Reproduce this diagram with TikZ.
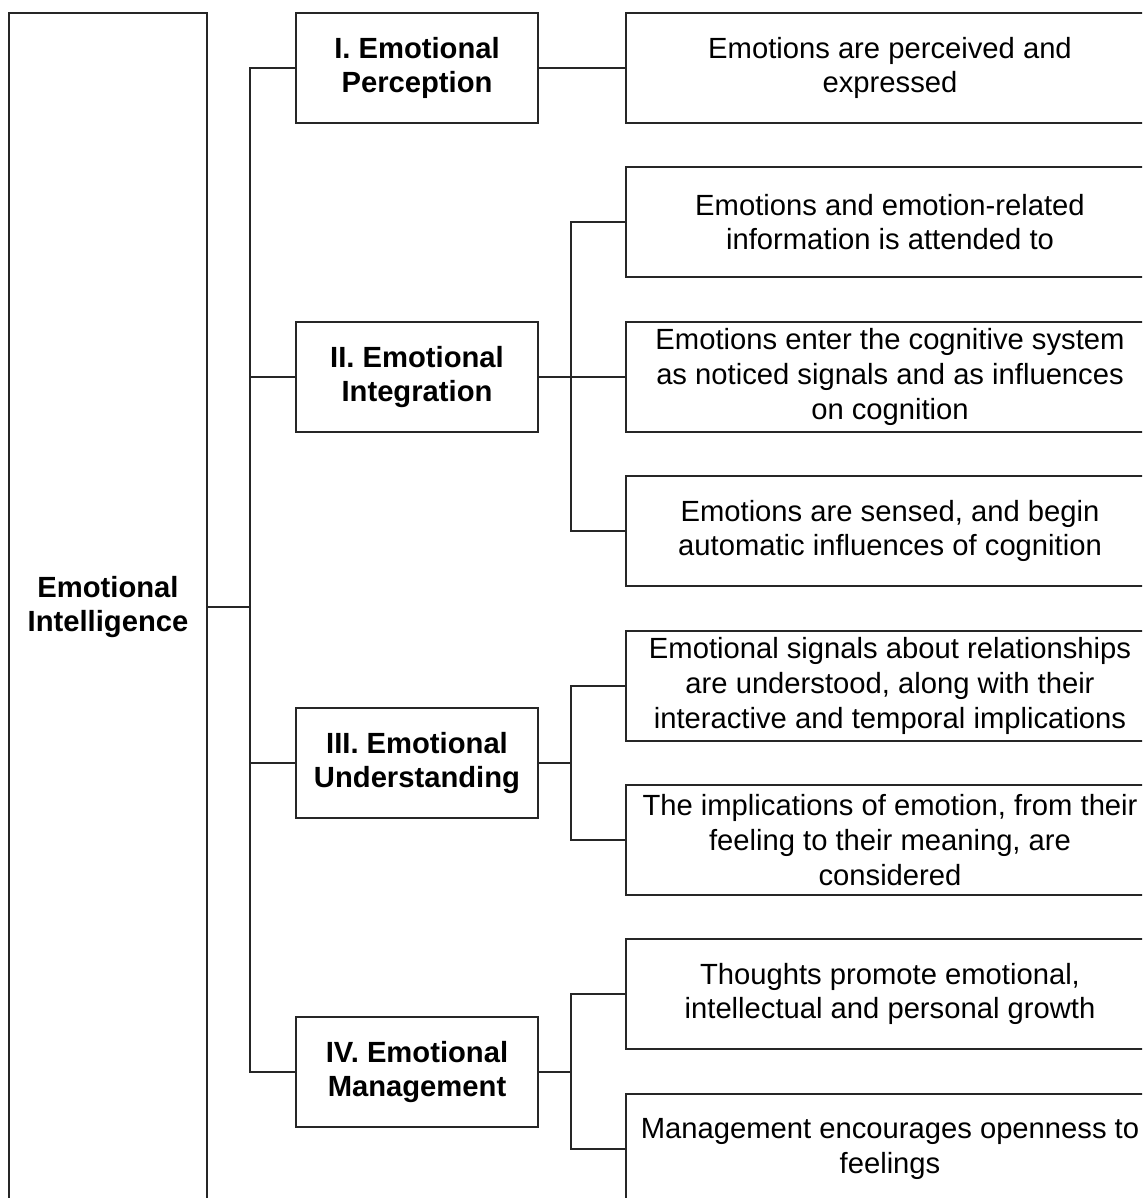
\documentclass[tikz,border=0pt]{standalone}
\usepackage{fontspec}
\setmainfont{Liberation Sans}
\begin{document}
\begin{tikzpicture}[x=0.5pt,y=-0.5pt,
  box/.style={draw=black!85, line width=0.6pt, fill=white, align=center, inner sep=0pt,
    font=\fontsize{14.6pt}{17.4pt}\selectfont},
  rootbox/.style={box, minimum width=99pt, minimum height=594pt, font=\fontsize{14.6pt}{17.4pt}\selectfont\bfseries},
  areabox/.style={box, minimum width=121pt, minimum height=55pt, font=\fontsize{14.6pt}{17.4pt}\selectfont\bfseries},
  itembox/.style={box, minimum width=264pt, minimum height=55pt},
  link/.style={draw=black!85, line width=0.6pt}]
\useasboundingbox (0,0) rectangle (1142,1198);
\clip (0,0) rectangle (1142,1198);

% root
\node[rootbox] (L) at (108,607) {Emotional\\Intelligence};

% four branches
\node[areabox] (m1) at (417,68)   {I. Emotional\\Perception};
\node[areabox] (m2) at (417,377)  {II. Emotional\\Integration};
\node[areabox] (m3) at (417,763)  {III. Emotional\\Understanding};
\node[areabox] (m4) at (417,1072) {IV. Emotional\\Management};

% descriptions
\node[itembox] (r1) at (890,68)   {Emotions are perceived and\\expressed};
\node[itembox] (r2) at (890,222)  {Emotions and emotion-related\\information is attended to};
\node[itembox] (r3) at (890,377)  {Emotions enter the cognitive system\\as noticed signals and as influences\\on cognition};
\node[itembox] (r4) at (890,531)  {Emotions are sensed, and begin\\automatic influences of cognition};
\node[itembox] (r5) at (890,686)  {Emotional signals about relationships\\are understood, along with their\\interactive and temporal implications};
\node[itembox] (r6) at (890,840)  {The implications of emotion, from their\\feeling to their meaning, are\\considered};
\node[itembox] (r7) at (890,994)  {Thoughts promote emotional,\\intellectual and personal growth};
\node[itembox] (r8) at (890,1149) {Management encourages openness to\\feelings};

% trunk and branch rails
\coordinate (t) at (250,607);
\coordinate (b) at (571,0);

\draw[link] (L.east) -- (t);
\draw[link] (m1.west) -- (m1.west -| t) -- (m4.west -| t) -- (m4.west);
\draw[link] (m2.west) -- (m2.west -| t);
\draw[link] (m3.west) -- (m3.west -| t);

\draw[link] (m1.east) -- (r1.west);

\draw[link] (m2.east) -- (r3.west);
\draw[link] (r2.west) -- (r2.west -| b) -- (r4.west -| b) -- (r4.west);

\draw[link] (m3.east) -- (m3.east -| b);
\draw[link] (r5.west) -- (r5.west -| b) -- (r6.west -| b) -- (r6.west);

\draw[link] (m4.east) -- (m4.east -| b);
\draw[link] (r7.west) -- (r7.west -| b) -- (r8.west -| b) -- (r8.west);
\end{tikzpicture}
\end{document}
